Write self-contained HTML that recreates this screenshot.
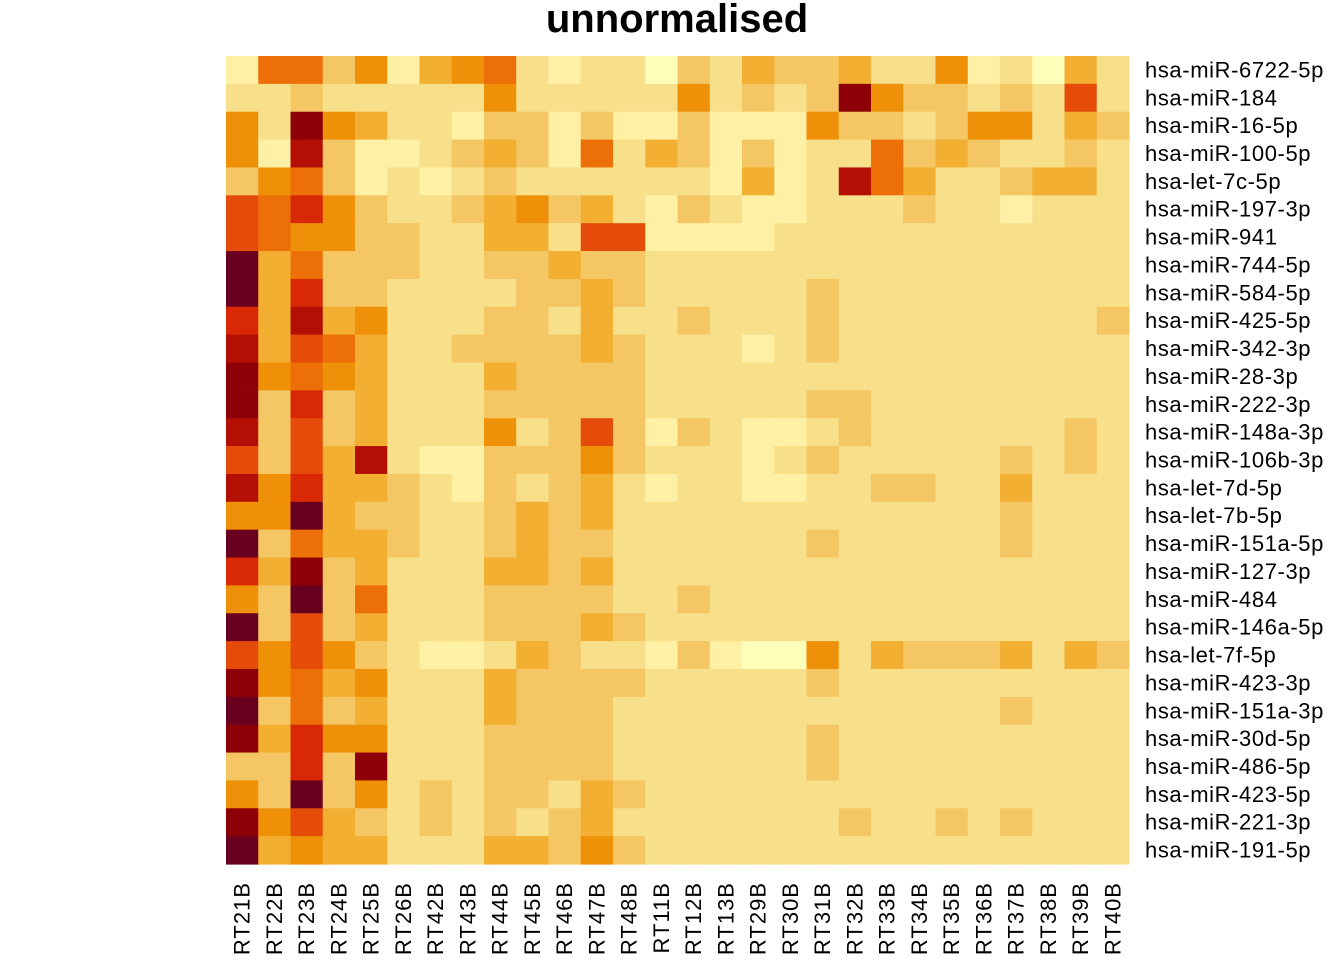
<!DOCTYPE html>
<html><head><meta charset="utf-8"><style>
body{margin:0;background:#fff;}
svg{display:block;font-family:"Liberation Sans",Arial,sans-serif;}
</style></head><body>
<svg id="chart" width="1344" height="960">
<text x="677" y="32" text-anchor="middle" font-size="40" font-weight="bold" fill="#000">unnormalised</text>
<g id="cells"></g>
<g id="rowlabels"></g>
<g id="collabels"></g>
</svg>
<script>
const columns = ["RT21B","RT22B","RT23B","RT24B","RT25B","RT26B","RT42B","RT43B","RT44B","RT45B","RT46B","RT47B","RT48B","RT11B","RT12B","RT13B","RT29B","RT30B","RT31B","RT32B","RT33B","RT34B","RT35B","RT36B","RT37B","RT38B","RT39B","RT40B"];
const rows = ["hsa-miR-6722-5p","hsa-miR-184","hsa-miR-16-5p","hsa-miR-100-5p","hsa-let-7c-5p","hsa-miR-197-3p","hsa-miR-941","hsa-miR-744-5p","hsa-miR-584-5p","hsa-miR-425-5p","hsa-miR-342-3p","hsa-miR-28-3p","hsa-miR-222-3p","hsa-miR-148a-3p","hsa-miR-106b-3p","hsa-let-7d-5p","hsa-let-7b-5p","hsa-miR-151a-5p","hsa-miR-127-3p","hsa-miR-484","hsa-miR-146a-5p","hsa-let-7f-5p","hsa-miR-423-3p","hsa-miR-151a-3p","hsa-miR-30d-5p","hsa-miR-486-5p","hsa-miR-423-5p","hsa-miR-221-3p","hsa-miR-191-5p"];
const values = [
[1,6,6,3,5,1,4,5,6,2,1,2,2,0, 3,2,4,3,3,4,2,2,5,1,2,0,4,2],
[2,2,3,2,2,2,2,2,5,2,2,2,2,2, 5,2,3,2,3,10,5,3,3,2,3,2,7,2],
[5,2,10,5,4,2,2,1,3,3,1,3,1,1, 3,1,1,1,5,3,3,2,3,5,5,2,4,3],
[5,1,9,3,1,1,2,3,4,3,1,6,2,4, 3,1,3,1,2,2,6,3,4,3,2,2,3,2],
[3,5,6,3,1,2,1,2,3,2,2,2,2,2, 2,1,4,1,2,9,6,4,2,2,3,4,4,2],
[7,6,8,5,3,2,2,3,4,5,3,4,2,1, 3,2,1,1,2,2,2,3,2,2,1,2,2,2],
[7,6,5,5,3,3,2,2,4,4,2,7,7,1, 1,1,1,2,2,2,2,2,2,2,2,2,2,2],
[11,4,6,3,3,3,2,2,3,3,4,3,3,2, 2,2,2,2,2,2,2,2,2,2,2,2,2,2],
[11,4,8,3,3,2,2,2,2,3,3,4,3,2, 2,2,2,2,3,2,2,2,2,2,2,2,2,2],
[8,4,9,4,5,2,2,2,3,3,2,4,2,2, 3,2,2,2,3,2,2,2,2,2,2,2,2,3],
[9,4,7,6,4,2,2,3,3,3,3,4,3,2, 2,2,1,2,3,2,2,2,2,2,2,2,2,2],
[10,5,6,5,4,2,2,2,4,3,3,3,3,2, 2,2,2,2,2,2,2,2,2,2,2,2,2,2],
[10,3,8,3,4,2,2,2,3,3,3,3,3,2, 2,2,2,2,3,3,2,2,2,2,2,2,2,2],
[9,3,7,3,4,2,2,2,5,2,3,7,3,1, 3,2,1,1,2,3,2,2,2,2,2,2,3,2],
[7,3,7,4,9,2,1,1,3,3,3,5,3,2, 2,2,1,2,3,2,2,2,2,2,3,2,3,2],
[9,5,8,4,4,3,2,1,3,2,3,4,2,1, 2,2,1,1,2,2,3,3,2,2,4,2,2,2],
[5,5,11,4,3,3,2,2,3,4,3,4,2,2, 2,2,2,2,2,2,2,2,2,2,3,2,2,2],
[11,3,6,4,4,3,2,2,3,4,3,3,2,2, 2,2,2,2,3,2,2,2,2,2,3,2,2,2],
[8,4,10,3,4,2,2,2,4,4,3,4,2,2, 2,2,2,2,2,2,2,2,2,2,2,2,2,2],
[5,3,11,3,6,2,2,2,3,3,3,3,2,2, 3,2,2,2,2,2,2,2,2,2,2,2,2,2],
[11,3,7,3,4,2,2,2,3,3,3,4,3,2, 2,2,2,2,2,2,2,2,2,2,2,2,2,2],
[7,5,7,5,3,2,1,1,2,4,3,2,2,1, 3,1,0,0,5,2,4,3,3,3,4,2,4,3],
[10,5,6,4,5,2,2,2,4,3,3,3,3,2, 2,2,2,2,3,2,2,2,2,2,2,2,2,2],
[11,3,6,3,4,2,2,2,4,3,3,3,2,2, 2,2,2,2,2,2,2,2,2,2,3,2,2,2],
[10,4,8,5,5,2,2,2,3,3,3,3,2,2, 2,2,2,2,3,2,2,2,2,2,2,2,2,2],
[3,3,8,3,10,2,2,2,3,3,3,3,2,2, 2,2,2,2,3,2,2,2,2,2,2,2,2,2],
[5,3,11,3,5,2,3,2,3,3,2,4,3,2, 2,2,2,2,2,2,2,2,2,2,2,2,2,2],
[10,5,7,4,3,2,3,2,3,2,3,4,2,2, 2,2,2,2,2,3,2,2,3,2,3,2,2,2],
[11,4,5,4,4,2,2,2,4,4,3,5,3,2, 2,2,2,2,2,2,2,2,2,2,2,2,2,2]
];
const palette = ["#FEFEBB","#FEF1A6","#F8DF8A","#F4C764","#F2AF31","#EF9108","#EC6F07","#E54C0A","#D82805","#B30F04","#8E0007","#6A0020"];

const NS = "http://www.w3.org/2000/svg";
const x0 = 226, x1 = 1129, y0 = 56, y1 = 864;
const cw = (x1 - x0) / columns.length, rh = (y1 - y0) / rows.length;
const xScale = i => x0 + i * cw;
const yScale = j => y0 + j * rh;
const colorScale = v => palette[Math.max(0, Math.min(palette.length - 1, Math.round(v)))];

const cells = document.getElementById('cells');
values.forEach((row, j) => {
  row.forEach((v, i) => {
    const r = document.createElementNS(NS, 'rect');
    r.setAttribute('x', xScale(i).toFixed(2));
    r.setAttribute('y', yScale(j).toFixed(2));
    r.setAttribute('width', (cw + 0.6).toFixed(2));
    r.setAttribute('height', (rh + 0.6).toFixed(2));
    r.setAttribute('fill', colorScale(v));
    
    
    cells.appendChild(r);
  });
});
const rl = document.getElementById('rowlabels');
rows.forEach((name, j) => {
  const t = document.createElementNS(NS, 'text');
  t.setAttribute('x', 1145);
  t.setAttribute('y', (yScale(j) + rh / 2 + 7.5).toFixed(1));
  t.setAttribute('font-size', '22');
  t.setAttribute('letter-spacing', '0.6');
  t.textContent = name;
  
  
  rl.appendChild(t);
});
const cl = document.getElementById('collabels');
columns.forEach((name, i) => {
  const t = document.createElementNS(NS, 'text');
  const cx = xScale(i) + cw / 2 + 7.5;
  t.setAttribute('x', cx.toFixed(1));
  t.setAttribute('y', 882);
  t.setAttribute('font-size', '22');
  t.setAttribute('letter-spacing', '1');
  t.setAttribute('text-anchor', 'end');
  t.setAttribute('transform', 'rotate(-90 ' + cx.toFixed(1) + ' 882)');
  t.textContent = name;
  
  
  cl.appendChild(t);
});
</script>
</body></html>
